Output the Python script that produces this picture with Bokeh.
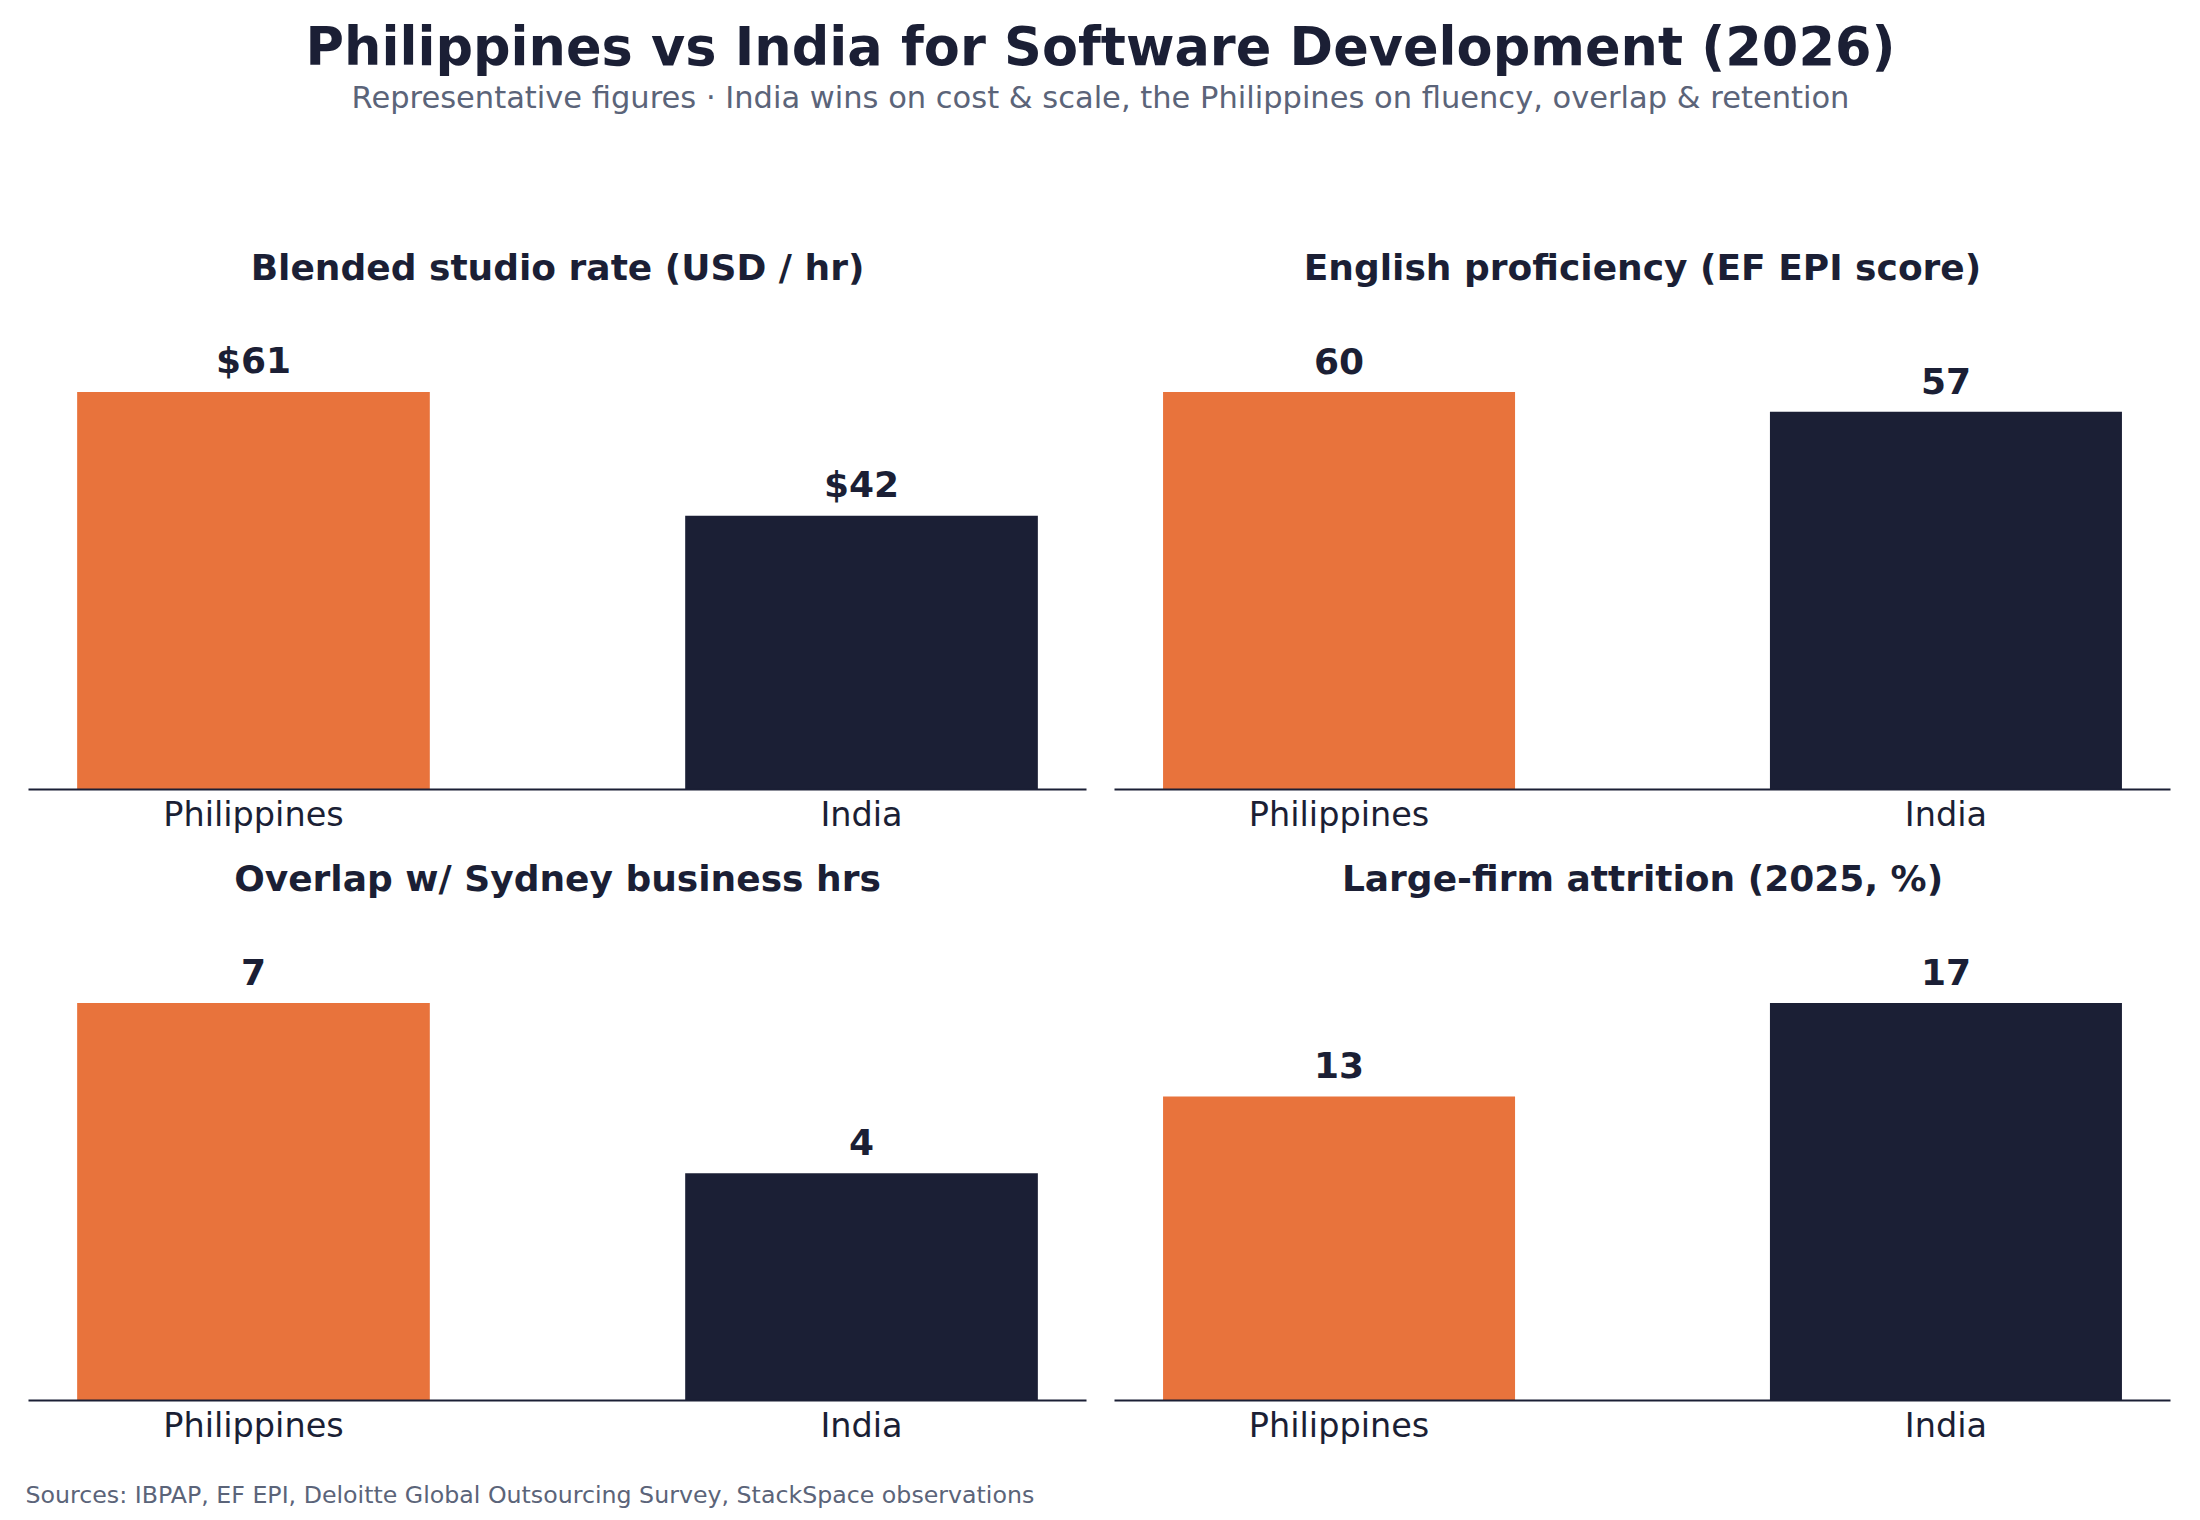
from bokeh.plotting import figure
from bokeh.layouts import column, row
from bokeh.models import Range1d, FixedTicker, ColumnDataSource
from bokeh.core.properties import value
from bokeh.embed import file_html
from bokeh.resources import INLINE

# ---------------- data ----------------
countries = ["Philippines", "India"]
bar_colors = ["#E8733C", "#1B1F35"]

panel_titles = [
    "Blended studio rate (USD / hr)",
    "English proficiency (EF EPI score)",
    "Overlap w/ Sydney business hrs",
    "Large-firm attrition (2025, %)",
]
rate_usd = [61, 42]
english_epi = [60, 57]
overlap_hrs = [7, 4]
attrition_pct = [13, 17]
label_prefix = ["$", "", "", ""]

main_title = "Philippines vs India for Software Development (2026)"
subtitle = ("Representative figures \u00b7 India wins on cost & scale, "
            "the Philippines on fluency, overlap & retention")
footer = "Sources: IBPAP, EF EPI, Deloitte Global Outsourcing Survey, StackSpace observations"

NAVY = "#1B1F35"
GREY = "#5B6479"
FONT = "DejaVu Sans"

# ---------------- helpers ----------------
def text_strip(width, height):
    p = figure(width=width, height=height, x_range=Range1d(0, width),
               y_range=Range1d(height, 0), toolbar_location=None,
               output_backend="svg", min_border=0)
    p.min_border_left = p.min_border_right = p.min_border_top = p.min_border_bottom = 0
    p.axis.visible = False
    p.grid.visible = False
    p.outline_line_color = None
    p.background_fill_color = None
    p.border_fill_color = "white"
    return p


def panel(title, vals, prefix, left, right, top, bottom, height):
    xs = list(range(len(countries)))
    ymax = max(vals) * 1.23
    p = figure(width=1100, height=height, x_range=Range1d(-0.37, 1.37),
               y_range=Range1d(0, ymax), toolbar_location=None,
               output_backend="svg", title=title)
    p.min_border_left = left
    p.min_border_right = right
    p.min_border_top = top
    p.min_border_bottom = bottom
    p.title.align = "center"
    p.title.text_font = FONT
    p.title.text_font_size = "36px"
    p.title.text_font_style = "bold"
    p.title.text_color = NAVY
    p.title.standoff = 26
    p.outline_line_color = None
    p.grid.visible = False
    p.yaxis.visible = False

    src = ColumnDataSource(dict(
        x=xs, top=vals, color=bar_colors,
        label=[f"{prefix}{v}" for v in vals],
    ))
    p.vbar(x="x", top="top", bottom=0, width=0.58, color="color",
           line_color=None, source=src)
    p.text(x="x", y="top", text="label", source=src,
           text_align="center", text_baseline="alphabetic", y_offset=-31,
           text_font=value(FONT), text_font_style="bold",
           text_font_size="36px", text_color=NAVY)

    ax = p.xaxis[0]
    ax.ticker = FixedTicker(ticks=xs)
    ax.major_label_overrides = {i: c for i, c in enumerate(countries)}
    ax.major_tick_line_color = None
    ax.minor_tick_line_color = None
    ax.major_tick_out = 0
    ax.major_tick_in = 0
    ax.major_label_standoff = 5
    ax.axis_line_color = NAVY
    ax.axis_line_width = 2
    ax.major_label_text_font = FONT
    ax.major_label_text_font_size = "33.5px"
    ax.major_label_text_color = NAVY
    return p


# ---------------- header ----------------
head = text_strip(2200, 200)
head.text(x=[1100], y=[46], text=[main_title], text_align="center",
          text_baseline="alphabetic", text_font=value(FONT),
          text_font_style="bold", text_font_size="52.5px", text_color=NAVY)
head.text(x=[1100], y=[97], text=[subtitle], text_align="center",
          text_baseline="alphabetic", text_font=value(FONT),
          text_font_size="30.5px", text_color=GREY)

# ---------------- panels ----------------
p1 = panel(panel_titles[0], rate_usd, label_prefix[0], 28, 14, 100, 51, 640)
p2 = panel(panel_titles[1], english_epi, label_prefix[1], 14, 30, 100, 51, 640)
p3 = panel(panel_titles[2], overlap_hrs, label_prefix[2], 28, 14, 71, 50, 610)
p4 = panel(panel_titles[3], attrition_pct, label_prefix[3], 14, 30, 71, 50, 610)

# ---------------- footer ----------------
foot = text_strip(2200, 70)
foot.text(x=[25], y=[44], text=[footer], text_align="left",
          text_baseline="alphabetic", text_font=value(FONT),
          text_font_size="23.7px", text_color=GREY)

layout = column(head, row(p1, p2), row(p3, p4), foot)

open("out.html", "w").write(file_html(layout, INLINE))
